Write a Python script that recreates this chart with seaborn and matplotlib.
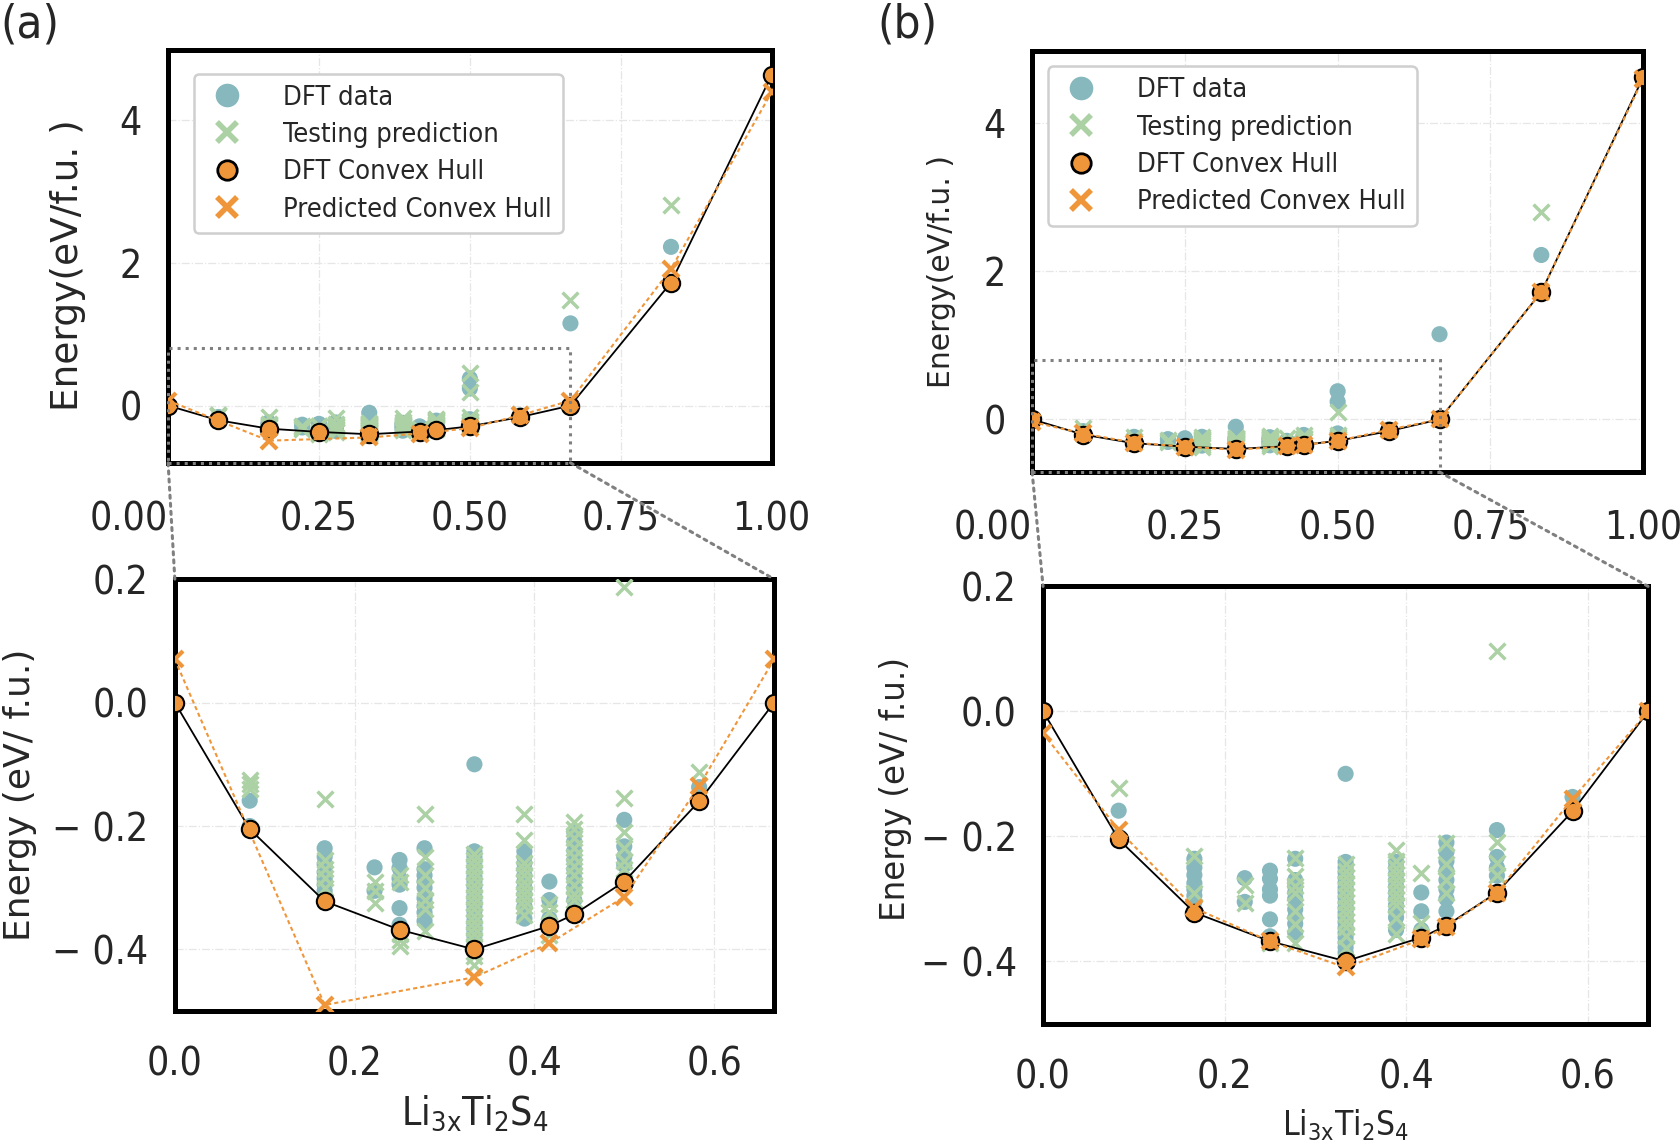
import os
import numpy as np
import pandas as pd
import matplotlib
matplotlib.use('Agg')
import matplotlib.pyplot as plt
import seaborn as sns
from matplotlib import font_manager
from matplotlib.lines import Line2D
from matplotlib.patches import Rectangle, ConnectionPatch

# colours
TEAL = '#86b8bd'
GREEN = '#acd1a5'
ORANGE = '#f0963a'

# DFT energies per composition x (same set in both panels)
dft_cols = {
    0.0:    [0.0],
    0.0833: [-0.159, -0.20],
    0.1667: [-0.236, -0.25, -0.262, -0.275, -0.285, -0.295, -0.305],
    0.2222: [-0.267, -0.305],
    0.25:   [-0.255, -0.268, -0.285, -0.295, -0.333, -0.36],
    0.2778: [-0.236, -0.27, -0.28, -0.29, -0.30, -0.317, -0.33, -0.34, -0.354],
    0.3333: [-0.10, -0.241, -0.25, -0.258, -0.266, -0.274, -0.282, -0.29, -0.298,
             -0.306, -0.314, -0.322, -0.33, -0.338, -0.346, -0.354, -0.362, -0.37,
             -0.378, -0.386, -0.397],
    0.3889: [-0.241, -0.25, -0.26, -0.27, -0.28, -0.29, -0.30, -0.31, -0.32, -0.33, -0.35],
    0.4167: [-0.29, -0.32, -0.35],
    0.4444: [-0.21, -0.225, -0.24, -0.255, -0.27, -0.285, -0.30, -0.32],
    0.5:    [0.38, 0.24, -0.19, -0.233, -0.25, -0.263],
    0.5833: [-0.137],
    0.6667: [0.0, 1.15],
    0.8333: [2.22],
    1.0:    [4.62],
}

# testing predictions, panel (a)
test_a_cols = {
    0.0833: [-0.125, -0.132, -0.14],
    0.1667: [-0.157, -0.255, -0.27, -0.285, -0.30],
    0.2222: [-0.29, -0.305, -0.325],
    0.25:   [-0.28, -0.29, -0.375, -0.385, -0.395],
    0.2778: [-0.18, -0.25, -0.28, -0.30, -0.32, -0.335, -0.37],
    0.3333: [-0.245, -0.255, -0.265, -0.275, -0.285, -0.295, -0.305, -0.315, -0.325,
             -0.335, -0.345, -0.355, -0.365, -0.375, -0.385, -0.395, -0.41, -0.425],
    0.3889: [-0.18, -0.222, -0.26, -0.27, -0.28, -0.29, -0.30, -0.31, -0.32, -0.33, -0.344],
    0.4167: [-0.327, -0.34, -0.376],
    0.4444: [-0.193, -0.205, -0.22, -0.235, -0.25, -0.265, -0.28, -0.295, -0.31, -0.32],
    0.5:    [0.45, 0.187, -0.155, -0.209, -0.235, -0.257, -0.27],
    0.5833: [-0.112],
    0.6667: [1.48],
    0.8333: [2.8],
}

# testing predictions, panel (b)
test_b_cols = {
    0.0833: [-0.123],
    0.1667: [-0.232, -0.291],
    0.2222: [-0.278, -0.307],
    0.25:   [-0.37],
    0.2778: [-0.235, -0.264, -0.28, -0.291, -0.32, -0.34, -0.371],
    0.3333: [-0.245, -0.255, -0.265, -0.275, -0.285, -0.295, -0.305, -0.315, -0.325,
             -0.335, -0.345, -0.36, -0.379],
    0.3889: [-0.222, -0.24, -0.25, -0.26, -0.27, -0.28, -0.29, -0.30, -0.31, -0.33, -0.356],
    0.4167: [-0.258, -0.339],
    0.4444: [-0.21, -0.245, -0.27, -0.29],
    0.5:    [0.097, -0.209, -0.243, -0.262],
    0.8333: [2.8],
}

# DFT convex hull
hull_x = [0.0, 0.0833, 0.1667, 0.25, 0.3333, 0.4167, 0.4444, 0.5, 0.5833, 0.6667, 0.8333, 1.0]
hull_e = [0.0, -0.205, -0.322, -0.368, -0.400, -0.362, -0.343, -0.290, -0.160, 0.0, 1.72, 4.62]

# predicted convex hulls
pred_a_x = [0.0, 0.1667, 0.3333, 0.4167, 0.5, 0.5833, 0.6667, 0.8333, 1.0]
pred_a_e = [0.07, -0.49, -0.445, -0.39, -0.315, -0.135, 0.07, 1.91, 4.38]
pred_b_x = [0.0, 0.0833, 0.1667, 0.25, 0.3333, 0.4167, 0.4444, 0.5, 0.5833, 0.6667, 0.8333, 1.0]
pred_b_e = [-0.035, -0.19, -0.315, -0.368, -0.41, -0.365, -0.345, -0.29, -0.14, 0.0, 1.72, 4.6]


def to_df(cols):
    rows = [(x, e) for x, es in cols.items() for e in es]
    return pd.DataFrame(rows, columns=['x', 'energy'])


def pick_narrow():
    """look for an installed condensed / narrow sans face"""
    bad = ('bold', 'light', 'thin', 'black', 'medium', 'italic', 'oblique', 'extra', 'heavy')
    for f in font_manager.fontManager.ttflist:
        fn = os.path.basename(f.fname).lower()
        if ('condensed' in fn or 'narrow' in fn) and not any(b in fn for b in bad) \
                and 'mono' not in fn and 'serif' not in fn.replace('sans', ''):
            return f.name, f.stretch
    return 'Lato', 'normal'


def plot_data(ax, test_df, pred_x, pred_e):
    sns.scatterplot(data=dft_df, x='x', y='energy', color=TEAL, s=135,
                    edgecolor='none', ax=ax, legend=False, zorder=2)
    sns.scatterplot(data=test_df, x='x', y='energy', color=GREEN, marker='x', s=130,
                    linewidth=2.5, ax=ax, legend=False, zorder=3)
    sns.lineplot(x=hull_x, y=hull_e, sort=False, estimator=None, color='black', lw=1.3,
                 marker='o', markersize=12.5, markerfacecolor=ORANGE, markeredgecolor='black',
                 markeredgewidth=1.5, ax=ax, zorder=4)
    sns.lineplot(x=pred_x, y=pred_e, sort=False, estimator=None, color=ORANGE, lw=1.5,
                 linestyle=(0, (2, 1.5)), marker='x', markersize=12, markeredgewidth=3,
                 markeredgecolor=ORANGE, ax=ax, zorder=5)


def style_axes(ax):
    for s in ax.spines.values():
        s.set_linewidth(3.6)
        s.set_color('black')
    ax.tick_params(direction='out', length=7, width=1.6, labelsize=28, pad=12)
    ax.grid(True, linestyle='-.', linewidth=0.9, color='#e6e6e6')
    ax.set_axisbelow(True)
    ax.set_xlabel('')
    ax.set_ylabel('')


if __name__ == '__main__':

    narrow, stretch = pick_narrow()

    sns.set_style('white')
    plt.rcParams['font.family'] = [narrow, 'DejaVu Sans']
    plt.rcParams['font.stretch'] = stretch
    plt.rcParams['mathtext.default'] = 'regular'

    dft_df = to_df(dft_cols)
    test_a_df = to_df(test_a_cols)
    test_b_df = to_df(test_b_cols)

    fig = plt.figure(figsize=(16.81, 11.40), dpi=100)

    panels = [
        dict(top=[0.100, 0.594, 0.359, 0.362], bot=[0.104, 0.113, 0.3565, 0.379],
             test=test_a_df, px=pred_a_x, pe=pred_a_e, ylo=-0.8, leg=(0.043, 0.943),
             tag='(a)', tagx=0.0, ylab_top=(-0.136, 0.48, 27), ylab_bot=(-0.23, 0.5, 26),
             xlab=(-0.19, 28)),
        dict(top=[0.614, 0.586, 0.3635, 0.369], bot=[0.6205, 0.102, 0.360, 0.3836],
             test=test_b_df, px=pred_b_x, pe=pred_b_e, ylo=-0.71, leg=(0.026, 0.964),
             tag='(b)', tagx=0.522, ylab_top=(-0.124, 0.477, 21.5), ylab_bot=(-0.216, 0.537, 23.5),
             xlab=(-0.19, 24)),
    ]

    handles = [
        Line2D([], [], ls='none', marker='o', ms=17, mfc=TEAL, mec='none', label='DFT data'),
        Line2D([], [], ls='none', marker='x', ms=15, mew=4, mec=GREEN, label='Testing prediction'),
        Line2D([], [], ls='none', marker='o', ms=14, mfc=ORANGE, mec='black', mew=2,
               label='DFT Convex Hull'),
        Line2D([], [], ls='none', marker='x', ms=15, mew=4, mec=ORANGE,
               label='Predicted Convex Hull'),
    ]

    for p in panels:
        ax_t = fig.add_axes(p['top'])
        ax_b = fig.add_axes(p['bot'])

        plot_data(ax_t, p['test'], p['px'], p['pe'])
        plot_data(ax_b, p['test'], p['px'], p['pe'])

        style_axes(ax_t)
        style_axes(ax_b)

        ax_t.set_xlim(0, 1)
        ax_t.set_ylim(p['ylo'], 4.97)
        ax_t.set_xticks([0, 0.25, 0.5, 0.75, 1.0], ['0.00', '0.25', '0.50', '0.75', '1.00'])
        ax_t.set_yticks([0, 2, 4], ['0', '2', '4'])
        ax_t.tick_params(axis='x', pad=20)
        ax_t.get_xticklabels()[0].set_ha('right')

        ax_b.set_xlim(0, 0.6667)
        ax_b.set_ylim(-0.5, 0.2)
        ax_b.set_xticks([0, 0.2, 0.4, 0.6], ['0.0', '0.2', '0.4', '0.6'])
        ax_b.set_yticks([-0.4, -0.2, 0.0, 0.2], ['\u2212 0.4', '\u2212 0.2', '0.0', '0.2'])
        ax_b.tick_params(axis='x', pad=18)

        lx, ly, lfs = p['ylab_top']
        ax_t.set_ylabel('Energy(eV/f.u. )', fontsize=lfs, family='DejaVu Sans', stretch='normal')
        ax_t.yaxis.set_label_coords(lx, ly)
        lx, ly, lfs = p['ylab_bot']
        ax_b.set_ylabel('Energy (eV/ f.u.)', fontsize=lfs, family='DejaVu Sans', stretch='normal')
        ax_b.yaxis.set_label_coords(lx, ly)
        xy, xfs = p['xlab']
        ax_b.set_xlabel('Li$_{3x}$Ti$_{2}$S$_{4}$', fontsize=xfs)
        ax_b.xaxis.set_label_coords(0.5, xy)

        leg = ax_t.legend(handles=handles, loc='upper left', bbox_to_anchor=p['leg'],
                          borderaxespad=0, fontsize=19.5, frameon=True, fancybox=True,
                          framealpha=1, edgecolor='#cfcfcf', borderpad=0.4, labelspacing=0.42,
                          handletextpad=1.3, handlelength=1.6)
        leg.get_frame().set_linewidth(1.8)
        leg.set_zorder(10)

        # zoom box and connectors
        ylo = p['ylo']
        rect = Rectangle((0, ylo), 0.6667, 0.8 - ylo, fill=False, ls=':', ec='gray',
                         lw=2.2, clip_on=False, zorder=6)
        ax_t.add_patch(rect)
        for xc in (0.0, 0.6667):
            con = ConnectionPatch(xyA=(xc, ylo), coordsA=ax_t.transData,
                                  xyB=(xc, 0.2), coordsB=ax_b.transData,
                                  ls=':', color='gray', lw=2.2)
            fig.add_artist(con)

        fig.text(p['tagx'], 0.998, p['tag'], fontsize=34, ha='left', va='top')

    fig.savefig('out.png', dpi=100, facecolor='white')
